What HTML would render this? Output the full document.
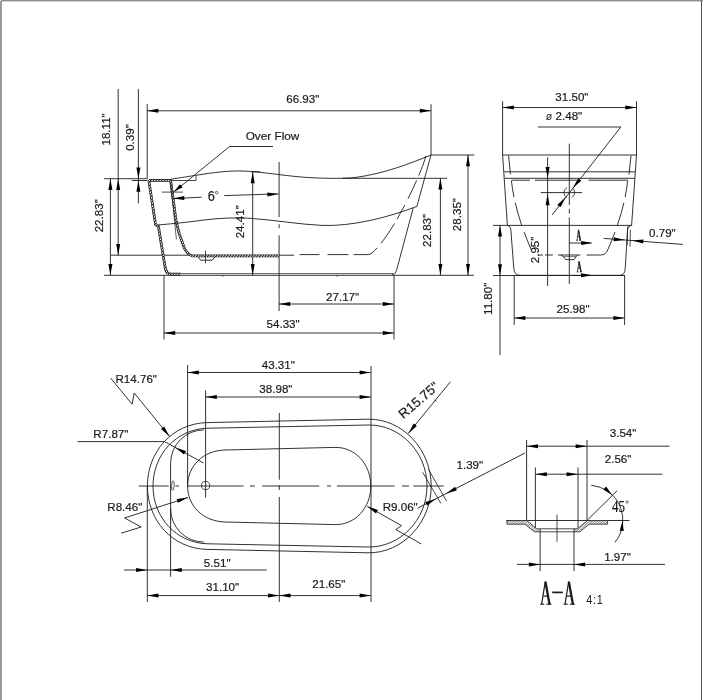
<!DOCTYPE html>
<html><head><meta charset="utf-8"><title>Bathtub drawing</title>
<style>
html,body{margin:0;padding:0;background:#fff;}
body{width:703px;height:700px;overflow:hidden;font-family:"Liberation Sans",sans-serif;}
svg{display:block;}
#g{filter:blur(0.35px);}
</style></head><body>
<svg width="703" height="700" viewBox="0 0 703 700">
<rect width="703" height="700" fill="#ffffff"/>
<g id="g">
<rect x="1" y="0" width="702" height="1.4" fill="#8e8e8e"/>
<rect x="0" y="1" width="2" height="699" fill="#9a9a9a"/>
<rect x="701" y="1" width="1" height="699" fill="#555"/>
<line x1="104" y1="178.7" x2="147.4" y2="178.7" stroke="#1c1c1c" stroke-width="0.9"/>
<line x1="342.5" y1="178.3" x2="447" y2="178.3" stroke="#1c1c1c" stroke-width="0.9"/>
<line x1="104" y1="275.3" x2="473.8" y2="275.3" stroke="#1c1c1c" stroke-width="0.9"/>
<line x1="111" y1="255.2" x2="294" y2="255.2" stroke="#1c1c1c" stroke-width="0.9"/>
<line x1="110.4" y1="178.7" x2="110.4" y2="275.3" stroke="#1c1c1c" stroke-width="0.9"/>
<polygon points="110.40,178.70 112.40,189.90 108.40,189.90" fill="#000"/>
<polygon points="110.40,275.30 108.40,264.10 112.40,264.10" fill="#000"/>
<text transform="translate(103.4,215.8) rotate(-90)" font-family="'Liberation Sans', sans-serif" font-size="11.6" text-anchor="middle" fill="#1a1a1a" stroke="#1a1a1a" stroke-width="0.2" letter-spacing="0">22.83"</text>
<line x1="118.2" y1="89" x2="118.2" y2="255.2" stroke="#1c1c1c" stroke-width="0.9"/>
<polygon points="118.20,178.70 120.20,189.90 116.20,189.90" fill="#000"/>
<polygon points="118.20,255.20 116.20,244.00 120.20,244.00" fill="#000"/>
<text transform="translate(109.6,129.4) rotate(-90)" font-family="'Liberation Sans', sans-serif" font-size="11.6" text-anchor="middle" fill="#1a1a1a" stroke="#1a1a1a" stroke-width="0.2" letter-spacing="0">18.11"</text>
<line x1="138.4" y1="89" x2="138.4" y2="203.3" stroke="#1c1c1c" stroke-width="0.9"/>
<polygon points="138.40,178.70 136.40,167.50 140.40,167.50" fill="#000"/>
<polygon points="138.40,180.60 140.40,191.80 136.40,191.80" fill="#000"/>
<text transform="translate(133.9,137.5) rotate(-90)" font-family="'Liberation Sans', sans-serif" font-size="11.6" text-anchor="middle" fill="#1a1a1a" stroke="#1a1a1a" stroke-width="0.2" letter-spacing="0">0.39"</text>
<line x1="131.8" y1="180.5" x2="147.4" y2="180.5" stroke="#1c1c1c" stroke-width="0.9"/>
<line x1="147.2" y1="104" x2="147.2" y2="178.7" stroke="#1c1c1c" stroke-width="0.9"/>
<line x1="431" y1="104.2" x2="431" y2="155" stroke="#1c1c1c" stroke-width="0.9"/>
<line x1="147.2" y1="110.8" x2="431" y2="110.8" stroke="#1c1c1c" stroke-width="0.9"/>
<polygon points="147.20,110.80 158.40,108.80 158.40,112.80" fill="#000"/>
<polygon points="431.00,110.80 419.80,112.80 419.80,108.80" fill="#000"/>
<text transform="translate(302.8,103.3)" font-family="'Liberation Sans', sans-serif" font-size="11.6" text-anchor="middle" fill="#1a1a1a" stroke="#1a1a1a" stroke-width="0.2" letter-spacing="0">66.93"</text>
<line x1="431" y1="155" x2="474.3" y2="155" stroke="#1c1c1c" stroke-width="0.9"/>
<line x1="468" y1="155" x2="468" y2="275.3" stroke="#1c1c1c" stroke-width="0.9"/>
<polygon points="468.00,155.00 470.00,166.20 466.00,166.20" fill="#000"/>
<polygon points="468.00,275.30 466.00,264.10 470.00,264.10" fill="#000"/>
<text transform="translate(460.8,214.6) rotate(-90)" font-family="'Liberation Sans', sans-serif" font-size="11.6" text-anchor="middle" fill="#1a1a1a" stroke="#1a1a1a" stroke-width="0.2" letter-spacing="0">28.35"</text>
<line x1="440.4" y1="178.3" x2="440.4" y2="275.3" stroke="#1c1c1c" stroke-width="0.9"/>
<polygon points="440.40,178.30 442.40,189.50 438.40,189.50" fill="#000"/>
<polygon points="440.40,275.30 438.40,264.10 442.40,264.10" fill="#000"/>
<text transform="translate(431.2,230.4) rotate(-90)" font-family="'Liberation Sans', sans-serif" font-size="11.6" text-anchor="middle" fill="#1a1a1a" stroke="#1a1a1a" stroke-width="0.2" letter-spacing="0">22.83"</text>
<line x1="279.1" y1="162" x2="279.1" y2="217" stroke="#1c1c1c" stroke-width="0.9"/>
<line x1="279.1" y1="224.2" x2="279.1" y2="228.1" stroke="#1c1c1c" stroke-width="0.9"/>
<line x1="279.1" y1="235.4" x2="279.1" y2="275.3" stroke="#1c1c1c" stroke-width="0.9"/>
<line x1="279.1" y1="275.3" x2="279.1" y2="311" stroke="#1c1c1c" stroke-width="0.9"/>
<line x1="252.7" y1="172" x2="252.7" y2="275.3" stroke="#1c1c1c" stroke-width="0.9"/>
<polygon points="252.70,172.00 254.70,183.20 250.70,183.20" fill="#000"/>
<polygon points="252.70,275.30 250.70,264.10 254.70,264.10" fill="#000"/>
<text transform="translate(243.6,221.8) rotate(-90)" font-family="'Liberation Sans', sans-serif" font-size="11.6" text-anchor="middle" fill="#1a1a1a" stroke="#1a1a1a" stroke-width="0.2" letter-spacing="0">24.41"</text>
<line x1="251" y1="171.8" x2="260" y2="171.8" stroke="#1c1c1c" stroke-width="0.9"/>
<line x1="164" y1="275.3" x2="164" y2="339.5" stroke="#1c1c1c" stroke-width="0.9"/>
<line x1="394" y1="275.3" x2="394" y2="339.5" stroke="#1c1c1c" stroke-width="0.9"/>
<line x1="279" y1="304" x2="394" y2="304" stroke="#1c1c1c" stroke-width="0.9"/>
<polygon points="279.00,304.00 290.20,302.00 290.20,306.00" fill="#000"/>
<polygon points="394.00,304.00 382.80,306.00 382.80,302.00" fill="#000"/>
<text transform="translate(342.6,300.7)" font-family="'Liberation Sans', sans-serif" font-size="11.6" text-anchor="middle" fill="#1a1a1a" stroke="#1a1a1a" stroke-width="0.2" letter-spacing="0">27.17"</text>
<line x1="164" y1="333" x2="394" y2="333" stroke="#1c1c1c" stroke-width="0.9"/>
<polygon points="164.00,333.00 175.20,331.00 175.20,335.00" fill="#000"/>
<polygon points="394.00,333.00 382.80,335.00 382.80,331.00" fill="#000"/>
<text transform="translate(283.1,327.5)" font-family="'Liberation Sans', sans-serif" font-size="11.6" text-anchor="middle" fill="#1a1a1a" stroke="#1a1a1a" stroke-width="0.2" letter-spacing="0">54.33"</text>
<defs><pattern id="hp2" width="2.1" height="2.1" patternUnits="userSpaceOnUse" patternTransform="rotate(40)"><rect width="2.1" height="2.1" fill="#fff"/><line x1="0.5" y1="0" x2="0.5" y2="2.1" stroke="#111" stroke-width="1.05"/></pattern></defs>
<path d="M148.8,180.4 L155.6,225 L158.4,226.3 L164.8,265.5 Q165.4,270.6 167.4,272.8 Q168.8,274.2 171.5,274.2 L181,274.2" fill="none" stroke="#1a1a1a" stroke-width="2.7" stroke-linejoin="round"/>
<path d="M148.8,180.4 L155.6,225 L158.4,226.3 L164.8,265.5 Q165.4,270.6 167.4,272.8 Q168.8,274.2 171.5,274.2 L181,274.2" fill="none" stroke="url(#hp2)" stroke-width="1.4000000000000001" stroke-linejoin="round"/>
<path d="M148.8,180.4 L170.6,180.4 L176.3,222.1 L179.2,233.6 L184.3,248 Q187,254 192.5,256 L279,256" fill="none" stroke="#1a1a1a" stroke-width="2.7" stroke-linejoin="round"/>
<path d="M148.8,180.4 L170.6,180.4 L176.3,222.1 L179.2,233.6 L184.3,248 Q187,254 192.5,256 L279,256" fill="none" stroke="url(#hp2)" stroke-width="1.4000000000000001" stroke-linejoin="round"/>
<line x1="181" y1="273.6" x2="393" y2="273.6" stroke="#1c1c1c" stroke-width="0.7"/>
<rect x="222" y="275.6" width="1.2" height="1" fill="#333"/><rect x="336.4" y="275.6" width="1.2" height="1" fill="#333"/>
<line x1="170.6" y1="181.9" x2="176.4" y2="239.3" stroke="#1c1c1c" stroke-width="0.7"/>
<path d="M198,257 L200.8,260.2 L212.2,260.2 L215,257" fill="none" stroke="#1c1c1c" stroke-width="0.95" />
<line x1="205.5" y1="250.7" x2="205.5" y2="263.4" stroke="#1c1c1c" stroke-width="0.8"/>
<path d="M170.7,179.2 C180,177.8 190,176.2 196,175.3 C215,172.2 230,170.6 243,171 C262,171.6 290,177 315,177.9 C330,178.5 345,178.6 356,177.4 C385,173.4 410,163.5 431,155" fill="none" stroke="#1c1c1c" stroke-width="0.9" />
<path d="M170.7,180.5 L196,180.5 L196,175.5" fill="none" stroke="#1c1c1c" stroke-width="0.8" />
<path d="M173.6,192.1 L229.6,146.5 L273,146.5" fill="none" stroke="#1c1c1c" stroke-width="0.9" />
<polygon points="173.60,192.10 180.04,184.20 182.59,187.28" fill="#000"/>
<text transform="translate(272.5,139.6)" font-family="'Liberation Sans', sans-serif" font-size="11.8" text-anchor="middle" fill="#1a1a1a" stroke="#1a1a1a" stroke-width="0.2" letter-spacing="0">Over Flow</text>
<line x1="162" y1="192.1" x2="183" y2="192.1" stroke="#1c1c1c" stroke-width="0.8"/>
<line x1="173.1" y1="198.6" x2="201.5" y2="197.2" stroke="#1c1c1c" stroke-width="0.9"/>
<line x1="224.3" y1="195.6" x2="278.5" y2="193.9" stroke="#1c1c1c" stroke-width="0.9"/>
<polygon points="173.10,198.60 184.20,196.11 184.38,200.11" fill="#000"/>
<polygon points="278.60,193.90 267.50,196.39 267.32,192.39" fill="#000"/>
<text transform="translate(211.2,201.4) scale(0.84,1)" font-family="'Liberation Sans', sans-serif" font-size="15.2" text-anchor="middle" fill="#1a1a1a" stroke="#1a1a1a" stroke-width="0.2" letter-spacing="0">6</text>
<circle cx="216.6" cy="192.6" r="1.3" fill="none" stroke="#1c1c1c" stroke-width="0.7"/>
<path d="M158,225 C175,223.5 190,222 204,220 C220,218 236,217.4 250,218.3 C275,220 300,224.5 322,225.4 C352,226.6 388,217.5 416.9,206.4" fill="none" stroke="#1c1c1c" stroke-width="0.9" />
<path d="M431,155 L416.9,206.4" fill="none" stroke="#1c1c1c" stroke-width="0.9" />
<path d="M413.3,207.6 L396.5,270.5 Q395.5,274.5 392,274.6" fill="none" stroke="#1c1c1c" stroke-width="0.9" />
<path d="M299.5,254.6 L319.5,254.6 M327.5,254.6 L348.5,254.6 M353.5,254.6 L367,254.6 Q370,254.6 372,253" fill="none" stroke="#1c1c1c" stroke-width="0.9" />
<path d="M425.8,156 C422.5,171 393.9,233.9 372,253" fill="none" stroke="#1c1c1c" stroke-width="0.9" stroke-dasharray="21 5.5 20 7 16 5 24 6 12 100" />
<line x1="502.6" y1="101.2" x2="502.6" y2="155" stroke="#1c1c1c" stroke-width="0.9"/>
<line x1="636.5" y1="101.2" x2="636.5" y2="155" stroke="#1c1c1c" stroke-width="0.9"/>
<line x1="502.6" y1="107.5" x2="636.5" y2="107.5" stroke="#1c1c1c" stroke-width="0.9"/>
<polygon points="502.60,107.50 513.80,105.50 513.80,109.50" fill="#000"/>
<polygon points="636.50,107.50 625.30,109.50 625.30,105.50" fill="#000"/>
<text transform="translate(571.9,100.7)" font-family="'Liberation Sans', sans-serif" font-size="11.6" text-anchor="middle" fill="#1a1a1a" stroke="#1a1a1a" stroke-width="0.2" letter-spacing="0">31.50"</text>
<text transform="translate(564,119.5)" font-family="'Liberation Sans', sans-serif" font-size="11.6" text-anchor="middle" fill="#1a1a1a" stroke="#1a1a1a" stroke-width="0.2" letter-spacing="0"><tspan font-size="10.6" stroke-width="0">ø</tspan> 2.48"</text>
<path d="M538,127 L620.8,127 L552,215" fill="none" stroke="#1c1c1c" stroke-width="0.9" />
<line x1="502.6" y1="155" x2="636.5" y2="155" stroke="#1c1c1c" stroke-width="0.9"/>
<line x1="502.6" y1="155" x2="507.4" y2="225.4" stroke="#1c1c1c" stroke-width="0.9"/>
<line x1="636.5" y1="155" x2="631.6" y2="225.4" stroke="#1c1c1c" stroke-width="0.9"/>
<line x1="508.6" y1="155.7" x2="510.4" y2="174.3" stroke="#1c1c1c" stroke-width="0.9"/>
<line x1="631" y1="155.7" x2="629" y2="174.3" stroke="#1c1c1c" stroke-width="0.9"/>
<line x1="504.2" y1="171.8" x2="635" y2="171.8" stroke="#1c1c1c" stroke-width="0.9"/>
<line x1="504.6" y1="178.3" x2="634.6" y2="178.3" stroke="#1c1c1c" stroke-width="0.9"/>
<line x1="511.5" y1="180.2" x2="530" y2="180.2" stroke="#1c1c1c" stroke-width="0.9"/>
<line x1="534.9" y1="180.2" x2="576.7" y2="180.2" stroke="#1c1c1c" stroke-width="0.9"/>
<line x1="588.6" y1="180.2" x2="627.8" y2="180.2" stroke="#1c1c1c" stroke-width="0.9"/>
<path d="M511.4,180.7 Q515,213 531.4,250 Q533.4,255 538.6,255" fill="none" stroke="#1c1c1c" stroke-width="0.9" stroke-dasharray="16.6 5.9 23.4 7.1 19.6 100" />
<path d="M627.7,180.7 Q624.1,213 607.7,250 Q605.7,255 600.5,255" fill="none" stroke="#1c1c1c" stroke-width="0.9" stroke-dasharray="16.6 5.9 23.4 7.1 30 100" />
<line x1="538.6" y1="255" x2="542.9" y2="255" stroke="#1c1c1c" stroke-width="0.9"/>
<line x1="545" y1="255" x2="552.9" y2="255" stroke="#1c1c1c" stroke-width="0.9"/>
<line x1="557.9" y1="255" x2="560.7" y2="255" stroke="#1c1c1c" stroke-width="0.9"/>
<line x1="577.8" y1="255" x2="580.4" y2="255" stroke="#1c1c1c" stroke-width="0.9"/>
<line x1="586.6" y1="255" x2="600.6" y2="255" stroke="#1c1c1c" stroke-width="0.9"/>
<line x1="493" y1="225.4" x2="631.6" y2="225.4" stroke="#1c1c1c" stroke-width="0.9"/>
<path d="M507.4,225.4 Q510.4,225.8 510.8,229 L513.8,268.6 Q514.4,275.3 520,275.3 L619.5,275.3 Q625,275.3 625.2,268.6 L627.6,229 Q628,225.8 631.6,225.4" fill="none" stroke="#1c1c1c" stroke-width="0.9" />
<line x1="493" y1="275.5" x2="625" y2="275.5" stroke="#1c1c1c" stroke-width="0.9"/>
<line x1="500" y1="225.4" x2="500" y2="355" stroke="#1c1c1c" stroke-width="0.9"/>
<polygon points="500.00,225.40 502.00,236.60 498.00,236.60" fill="#000"/>
<polygon points="500.00,275.50 498.00,264.30 502.00,264.30" fill="#000"/>
<text transform="translate(492.2,298.8) rotate(-90)" font-family="'Liberation Sans', sans-serif" font-size="11.6" text-anchor="middle" fill="#1a1a1a" stroke="#1a1a1a" stroke-width="0.2" letter-spacing="0">11.80"</text>
<line x1="514.2" y1="275.5" x2="514.2" y2="325" stroke="#1c1c1c" stroke-width="0.9"/>
<line x1="624.6" y1="275.5" x2="624.6" y2="325" stroke="#1c1c1c" stroke-width="0.9"/>
<line x1="514.2" y1="318" x2="624.6" y2="318" stroke="#1c1c1c" stroke-width="0.9"/>
<polygon points="514.20,318.00 525.40,316.00 525.40,320.00" fill="#000"/>
<polygon points="624.60,318.00 613.40,320.00 613.40,316.00" fill="#000"/>
<text transform="translate(573,313.2)" font-family="'Liberation Sans', sans-serif" font-size="11.6" text-anchor="middle" fill="#1a1a1a" stroke="#1a1a1a" stroke-width="0.2" letter-spacing="0">25.98"</text>
<line x1="547.6" y1="157.2" x2="547.6" y2="286" stroke="#1c1c1c" stroke-width="0.9"/>
<polygon points="547.60,178.30 545.60,167.10 549.60,167.10" fill="#000"/>
<polygon points="547.60,194.00 549.60,205.20 545.60,205.20" fill="#000"/>
<text transform="translate(539.3,249.9) rotate(-90)" font-family="'Liberation Sans', sans-serif" font-size="11.6" text-anchor="middle" fill="#1a1a1a" stroke="#1a1a1a" stroke-width="0.2" letter-spacing="0">2.95"</text>
<line x1="569.3" y1="143.7" x2="569.3" y2="205" stroke="#1c1c1c" stroke-width="0.9"/>
<line x1="569.3" y1="208.8" x2="569.3" y2="213.6" stroke="#1c1c1c" stroke-width="0.9"/>
<line x1="569.3" y1="217.5" x2="569.3" y2="283.8" stroke="#1c1c1c" stroke-width="0.9"/>
<line x1="540.8" y1="192.6" x2="582.2" y2="192.6" stroke="#1c1c1c" stroke-width="0.9"/>
<path d="M566.9,187.7 A5.5,5.5 0 0 0 566.9,197.5" fill="none" stroke="#1c1c1c" stroke-width="0.8" />
<path d="M571.7,187.7 A5.5,5.5 0 0 1 571.7,197.5" fill="none" stroke="#1c1c1c" stroke-width="0.8" />
<polygon points="572.90,188.10 578.10,178.20 581.25,180.67" fill="#000"/>
<polygon points="565.70,197.30 560.50,207.20 557.35,204.73" fill="#000"/>
<path d="M560.7,255 L563.4,256.6 L565.6,259.6 L574,259.6 L576,256.6 L577.8,255 Z" fill="none" stroke="#1c1c1c" stroke-width="0.9" />
<line x1="563.4" y1="256.6" x2="576" y2="256.6" stroke="#1c1c1c" stroke-width="0.6"/>
<path d="M577.0,240.3 L578.45,229.9 L580.3000000000001,240.3" fill="none" stroke="#1c1c1c" stroke-width="0.8" />
<path d="M578.45,229.9 L580.3000000000001,240.3" fill="none" stroke="#1c1c1c" stroke-width="1.3" />
<line x1="577.523" y1="236.556" x2="579.875" y2="236.556" stroke="#1c1c1c" stroke-width="0.8"/>
<line x1="576.2" y1="240.3" x2="577.964" y2="240.3" stroke="#1c1c1c" stroke-width="0.8"/>
<line x1="579.1400000000001" y1="240.3" x2="581.1" y2="240.3" stroke="#1c1c1c" stroke-width="0.8"/>
<path d="M577.4,271.9 L579.0,261.5 L581.0000000000001,271.9" fill="none" stroke="#1c1c1c" stroke-width="0.8" />
<path d="M579.0,261.5 L581.0000000000001,271.9" fill="none" stroke="#1c1c1c" stroke-width="1.3" />
<line x1="578.004" y1="268.15599999999995" x2="580.5" y2="268.15599999999995" stroke="#1c1c1c" stroke-width="0.8"/>
<line x1="576.6" y1="271.9" x2="578.472" y2="271.9" stroke="#1c1c1c" stroke-width="0.8"/>
<line x1="579.72" y1="271.9" x2="581.8000000000001" y2="271.9" stroke="#1c1c1c" stroke-width="0.8"/>
<line x1="569.3" y1="243" x2="591.5" y2="243" stroke="#1c1c1c" stroke-width="0.9"/>
<polygon points="592.40,243.00 581.20,245.00 581.20,241.00" fill="#000"/>
<polygon points="592.20,275.30 581.00,277.30 581.00,273.30" fill="#000"/>
<line x1="603.7" y1="238.4" x2="682.8" y2="244.4" stroke="#1c1c1c" stroke-width="0.9"/>
<polygon points="624.90,240.00 613.58,241.15 613.88,237.17" fill="#000"/>
<polygon points="632.10,240.60 643.42,239.45 643.12,243.43" fill="#000"/>
<line x1="627.6" y1="226.6" x2="627.2" y2="245.2" stroke="#1c1c1c" stroke-width="0.8"/>
<line x1="630.4" y1="229.8" x2="630" y2="246.8" stroke="#1c1c1c" stroke-width="0.8"/>
<text transform="translate(662.4,236.7)" font-family="'Liberation Sans', sans-serif" font-size="11.6" text-anchor="middle" fill="#1a1a1a" stroke="#1a1a1a" stroke-width="0.2" letter-spacing="0">0.79"</text>
<line x1="187.6" y1="365" x2="187.6" y2="486" stroke="#1c1c1c" stroke-width="0.9"/>
<line x1="371" y1="366" x2="371" y2="602" stroke="#1c1c1c" stroke-width="0.9"/>
<line x1="187.6" y1="372.5" x2="370.8" y2="372.5" stroke="#1c1c1c" stroke-width="0.9"/>
<polygon points="187.60,372.50 198.80,370.50 198.80,374.50" fill="#000"/>
<polygon points="370.80,372.50 359.60,374.50 359.60,370.50" fill="#000"/>
<text transform="translate(278.3,368.9)" font-family="'Liberation Sans', sans-serif" font-size="11.6" text-anchor="middle" fill="#1a1a1a" stroke="#1a1a1a" stroke-width="0.2" letter-spacing="0">43.31"</text>
<line x1="205.6" y1="390.5" x2="205.6" y2="497.5" stroke="#1c1c1c" stroke-width="0.9"/>
<line x1="205.6" y1="397" x2="370.8" y2="397" stroke="#1c1c1c" stroke-width="0.9"/>
<polygon points="205.60,397.00 216.80,395.00 216.80,399.00" fill="#000"/>
<polygon points="370.80,397.00 359.60,399.00 359.60,395.00" fill="#000"/>
<text transform="translate(275.9,392.7)" font-family="'Liberation Sans', sans-serif" font-size="11.6" text-anchor="middle" fill="#1a1a1a" stroke="#1a1a1a" stroke-width="0.2" letter-spacing="0">38.98"</text>
<line x1="279.3" y1="412.9" x2="279.3" y2="479.7" stroke="#1c1c1c" stroke-width="0.9"/>
<line x1="279.3" y1="485.4" x2="279.3" y2="490" stroke="#1c1c1c" stroke-width="0.9"/>
<line x1="279.3" y1="497" x2="279.3" y2="602" stroke="#1c1c1c" stroke-width="0.9"/>
<line x1="138.75" y1="486" x2="168.75" y2="486" stroke="#1c1c1c" stroke-width="0.9"/>
<line x1="175.5" y1="486" x2="179" y2="486" stroke="#1c1c1c" stroke-width="0.9"/>
<line x1="187.5" y1="486" x2="243.6" y2="486" stroke="#1c1c1c" stroke-width="0.9"/>
<line x1="250" y1="486" x2="255" y2="486" stroke="#1c1c1c" stroke-width="0.9"/>
<line x1="262.1" y1="486" x2="319.3" y2="486" stroke="#1c1c1c" stroke-width="0.9"/>
<line x1="327" y1="486" x2="331" y2="486" stroke="#1c1c1c" stroke-width="0.9"/>
<line x1="337" y1="486" x2="394.6" y2="486" stroke="#1c1c1c" stroke-width="0.9"/>
<line x1="402" y1="486" x2="409" y2="486" stroke="#1c1c1c" stroke-width="0.9"/>
<line x1="413.4" y1="486" x2="443.7" y2="486" stroke="#1c1c1c" stroke-width="0.9"/>
<line x1="147.3" y1="486" x2="147.3" y2="602" stroke="#1c1c1c" stroke-width="0.9"/>
<line x1="170.6" y1="508" x2="170.6" y2="576.8" stroke="#1c1c1c" stroke-width="0.9"/>
<line x1="124" y1="570" x2="266.7" y2="570" stroke="#1c1c1c" stroke-width="0.9"/>
<polygon points="147.30,570.00 136.10,572.00 136.10,568.00" fill="#000"/>
<polygon points="170.60,570.00 181.80,568.00 181.80,572.00" fill="#000"/>
<text transform="translate(217.2,567.1)" font-family="'Liberation Sans', sans-serif" font-size="11.6" text-anchor="middle" fill="#1a1a1a" stroke="#1a1a1a" stroke-width="0.2" letter-spacing="0">5.51"</text>
<line x1="147.3" y1="595.6" x2="279.3" y2="595.6" stroke="#1c1c1c" stroke-width="0.9"/>
<polygon points="147.30,595.60 158.50,593.60 158.50,597.60" fill="#000"/>
<polygon points="279.30,595.60 268.10,597.60 268.10,593.60" fill="#000"/>
<text transform="translate(222.6,590.7)" font-family="'Liberation Sans', sans-serif" font-size="11.6" text-anchor="middle" fill="#1a1a1a" stroke="#1a1a1a" stroke-width="0.2" letter-spacing="0">31.10"</text>
<line x1="279.3" y1="595.6" x2="370.8" y2="595.6" stroke="#1c1c1c" stroke-width="0.9"/>
<polygon points="279.30,595.60 290.50,593.60 290.50,597.60" fill="#000"/>
<polygon points="370.80,595.60 359.60,597.60 359.60,593.60" fill="#000"/>
<text transform="translate(328.8,587.7)" font-family="'Liberation Sans', sans-serif" font-size="11.6" text-anchor="middle" fill="#1a1a1a" stroke="#1a1a1a" stroke-width="0.2" letter-spacing="0">21.65"</text>
<path d="M147.4,486 C147.4,452 172,423.5 207,422.6 L368,419.2 C402,418.5 431.2,449 431.2,486 C431.2,523.00 402,553.50 368,552.80 L207,549.40 C172,548.50 147.4,520.00 147.4,486 Z" fill="none" stroke="#1c1c1c" stroke-width="0.9" />
<path d="M153,486 C153,455 176,428.8 208,428.2 L368,425 C400,424.4 427,452 427,486 C427,520.00 400,547.60 368,547.00 L208,543.80 C176,543.20 153,517.00 153,486 Z" fill="none" stroke="#1c1c1c" stroke-width="0.9" />
<path d="M203.9,429.9 A33.3,33.3 0 0 0 170.6,463.2 L170.6,508.8 A33.3,33.3 0 0 0 203.9,542.1" fill="none" stroke="#1c1c1c" stroke-width="0.9" />
<ellipse cx="172.9" cy="485.6" rx="1.3" ry="4.8" fill="none" stroke="#1c1c1c" stroke-width="0.7" transform="rotate(4 172.9 485.6)"/>
<path d="M187.6,486 C187.6,466 203,450.6 225,450 L335,447.4 C355,447 370.8,464 370.8,486 C370.8,508.00 355,525.00 335,524.60 L225,522.00 C203,521.40 187.6,506.00 187.6,486 Z" fill="none" stroke="#1c1c1c" stroke-width="0.9" />
<circle cx="205.6" cy="485.5" r="4.1" fill="none" stroke="#1c1c1c" stroke-width="0.8"/>
<path d="M110.6,378 L132.1,404.2 L134.2,393 L169.6,436.5" fill="none" stroke="#1c1c1c" stroke-width="0.9" />
<polygon points="169.60,436.50 161.00,429.05 164.11,426.54" fill="#000"/>
<text transform="translate(136.2,383.2)" font-family="'Liberation Sans', sans-serif" font-size="11.6" text-anchor="middle" fill="#1a1a1a" stroke="#1a1a1a" stroke-width="0.2" letter-spacing="0">R14.76"</text>
<path d="M77.5,441.6 L164.6,441.6 L203.4,463" fill="none" stroke="#1c1c1c" stroke-width="0.9" />
<polygon points="175.20,447.40 185.97,451.08 184.03,454.58" fill="#000"/>
<text transform="translate(110.9,437.5)" font-family="'Liberation Sans', sans-serif" font-size="11.6" text-anchor="middle" fill="#1a1a1a" stroke="#1a1a1a" stroke-width="0.2" letter-spacing="0">R7.87"</text>
<path d="M188,497.5 L124.5,518 L141.2,527 L121.2,533.2" fill="none" stroke="#1c1c1c" stroke-width="0.9" />
<polygon points="188.00,497.50 177.97,502.86 176.73,499.06" fill="#000"/>
<text transform="translate(124.8,510.7)" font-family="'Liberation Sans', sans-serif" font-size="11.6" text-anchor="middle" fill="#1a1a1a" stroke="#1a1a1a" stroke-width="0.2" letter-spacing="0">R8.46"</text>
<path d="M367.2,506.3 L401.5,525.6 L395.8,529.6 L421.4,544" fill="none" stroke="#1c1c1c" stroke-width="0.9" />
<polygon points="367.20,506.30 377.93,510.07 375.96,513.56" fill="#000"/>
<text transform="translate(400.2,511.1)" font-family="'Liberation Sans', sans-serif" font-size="11.6" text-anchor="middle" fill="#1a1a1a" stroke="#1a1a1a" stroke-width="0.2" letter-spacing="0">R9.06"</text>
<path d="M450.4,381.8 L408.2,433.4" fill="none" stroke="#1c1c1c" stroke-width="0.9" />
<polygon points="408.20,433.40 413.73,423.46 416.83,425.98" fill="#000"/>
<text transform="translate(403.3,419.3) rotate(-40.5)" font-family="'Liberation Sans', sans-serif" font-size="13.4" text-anchor="start" fill="#1a1a1a" stroke="#1a1a1a" stroke-width="0.2" letter-spacing="0">R15.75"</text>
<line x1="434.6" y1="400" x2="436.4" y2="401.4" stroke="#1c1c1c" stroke-width="0.8"/>
<line x1="422.6" y1="472.2" x2="440.9" y2="503.4" stroke="#1c1c1c" stroke-width="0.8"/>
<line x1="428.6" y1="469.6" x2="446.6" y2="501.1" stroke="#1c1c1c" stroke-width="0.8"/>
<path d="M525,453 L417.6,508.2" fill="none" stroke="#1c1c1c" stroke-width="0.9" />
<polygon points="446.00,493.70 455.05,486.80 456.88,490.36" fill="#000"/>
<polygon points="436.20,498.70 427.15,505.60 425.32,502.04" fill="#000"/>
<text transform="translate(469.8,468.9)" font-family="'Liberation Sans', sans-serif" font-size="11.6" text-anchor="middle" fill="#1a1a1a" stroke="#1a1a1a" stroke-width="0.2" letter-spacing="0">1.39"</text>
<line x1="526.6" y1="440" x2="526.6" y2="520" stroke="#1c1c1c" stroke-width="0.9"/>
<line x1="587" y1="440" x2="587" y2="520" stroke="#1c1c1c" stroke-width="0.9"/>
<line x1="526.6" y1="446.2" x2="669.5" y2="446.2" stroke="#1c1c1c" stroke-width="0.9"/>
<polygon points="526.80,446.20 538.00,444.20 538.00,448.20" fill="#000"/>
<polygon points="586.80,446.20 575.60,448.20 575.60,444.20" fill="#000"/>
<text transform="translate(623.1,436.5)" font-family="'Liberation Sans', sans-serif" font-size="11.6" text-anchor="middle" fill="#1a1a1a" stroke="#1a1a1a" stroke-width="0.2" letter-spacing="0">3.54"</text>
<line x1="535.4" y1="467.5" x2="535.4" y2="528.8" stroke="#1c1c1c" stroke-width="0.9"/>
<line x1="578" y1="467.5" x2="578" y2="528.8" stroke="#1c1c1c" stroke-width="0.9"/>
<line x1="535.4" y1="474.2" x2="662.5" y2="474.2" stroke="#1c1c1c" stroke-width="0.9"/>
<polygon points="535.60,474.20 546.80,472.20 546.80,476.20" fill="#000"/>
<polygon points="577.80,474.20 566.60,476.20 566.60,472.20" fill="#000"/>
<text transform="translate(618.1,462.6)" font-family="'Liberation Sans', sans-serif" font-size="11.6" text-anchor="middle" fill="#1a1a1a" stroke="#1a1a1a" stroke-width="0.2" letter-spacing="0">2.56"</text>
<line x1="506.2" y1="520.5" x2="629.5" y2="520.5" stroke="#1c1c1c" stroke-width="0.9"/>
<defs><pattern id="hp" width="1.9" height="1.9" patternUnits="userSpaceOnUse" patternTransform="rotate(45)"><rect width="1.9" height="1.9" fill="#fff"/><line x1="0" y1="0" x2="0" y2="1.9" stroke="#222" stroke-width="1.0"/></pattern></defs>
<polygon points="507,520.6 526.8,520.6 536.8,528.8 540.2,528.8 540.2,531.8 534.4,531.8 525,524.2 507,524.2" fill="url(#hp)" stroke="#222" stroke-width="0.8"/>
<polygon points="607.6,520.6 587.4,520.6 577.4,528.8 574,528.8 574,531.8 579.8,531.8 589.2,524.2 607.6,524.2" fill="url(#hp)" stroke="#222" stroke-width="0.8"/>
<line x1="540" y1="528.8" x2="574" y2="528.8" stroke="#1c1c1c" stroke-width="0.8"/>
<line x1="540" y1="531.8" x2="574" y2="531.8" stroke="#1c1c1c" stroke-width="0.8"/>
<line x1="557" y1="514.5" x2="557" y2="541.8" stroke="#1c1c1c" stroke-width="0.8"/>
<line x1="540.1" y1="531.6" x2="540.1" y2="571.2" stroke="#1c1c1c" stroke-width="0.9"/>
<line x1="574" y1="531.6" x2="574" y2="571.2" stroke="#1c1c1c" stroke-width="0.9"/>
<line x1="517" y1="564.4" x2="665" y2="564.4" stroke="#1c1c1c" stroke-width="0.9"/>
<polygon points="540.10,564.40 528.90,566.40 528.90,562.40" fill="#000"/>
<polygon points="574.00,564.40 585.20,562.40 585.20,566.40" fill="#000"/>
<text transform="translate(617.5,560.7)" font-family="'Liberation Sans', sans-serif" font-size="11.6" text-anchor="middle" fill="#1a1a1a" stroke="#1a1a1a" stroke-width="0.2" letter-spacing="0">1.97"</text>
<line x1="587.5" y1="520" x2="617" y2="490.8" stroke="#1c1c1c" stroke-width="0.9"/>
<path d="M591.2,485.2 A35,35 0 0 1 615,542.2" fill="none" stroke="#1c1c1c" stroke-width="0.9" />
<polygon points="612.30,495.30 603.36,489.44 606.14,486.57" fill="#000"/>
<polygon points="622.50,520.40 623.76,531.01 619.77,530.73" fill="#000"/>
<text transform="translate(618.4,511.9) scale(0.74,1)" font-family="'Liberation Serif', sans-serif" font-size="17.5" text-anchor="middle" fill="#1a1a1a" stroke="#1a1a1a" stroke-width="0.2" letter-spacing="0">45</text>
<circle cx="627.2" cy="502" r="1.2" fill="none" stroke="#1c1c1c" stroke-width="0.6"/>
<path d="M541.6,604.4 L545.3000000000001,581.4 L549.6000000000001,604.4" fill="none" stroke="#1c1c1c" stroke-width="1.2" />
<path d="M545.5000000000001,581.9 L549.5000000000001,604.4" fill="none" stroke="#1c1c1c" stroke-width="2.3" />
<line x1="543.336" y1="596.12" x2="548.488" y2="596.12" stroke="#1c1c1c" stroke-width="1.2"/>
<line x1="540.2" y1="604.1999999999999" x2="544.2320000000001" y2="604.1999999999999" stroke="#1c1c1c" stroke-width="1.1"/>
<line x1="546.36" y1="604.1999999999999" x2="551.4000000000001" y2="604.1999999999999" stroke="#1c1c1c" stroke-width="1.1"/>
<line x1="552.2" y1="592.4" x2="562.8" y2="592.4" stroke="#1c1c1c" stroke-width="1.7"/>
<path d="M565.0,604.4 L568.7,581.4 L573.0000000000001,604.4" fill="none" stroke="#1c1c1c" stroke-width="1.2" />
<path d="M568.9000000000001,581.9 L572.9000000000001,604.4" fill="none" stroke="#1c1c1c" stroke-width="2.3" />
<line x1="566.736" y1="596.12" x2="571.888" y2="596.12" stroke="#1c1c1c" stroke-width="1.2"/>
<line x1="563.6" y1="604.1999999999999" x2="567.6320000000001" y2="604.1999999999999" stroke="#1c1c1c" stroke-width="1.1"/>
<line x1="569.76" y1="604.1999999999999" x2="574.8000000000001" y2="604.1999999999999" stroke="#1c1c1c" stroke-width="1.1"/>
<text transform="translate(594.9,604.1) scale(0.8,1)" font-family="'Liberation Sans', sans-serif" font-size="13.6" text-anchor="middle" fill="#1a1a1a" stroke="#1a1a1a" stroke-width="0" letter-spacing="1.0">4:1</text>
</g>
</svg>
</body></html>
